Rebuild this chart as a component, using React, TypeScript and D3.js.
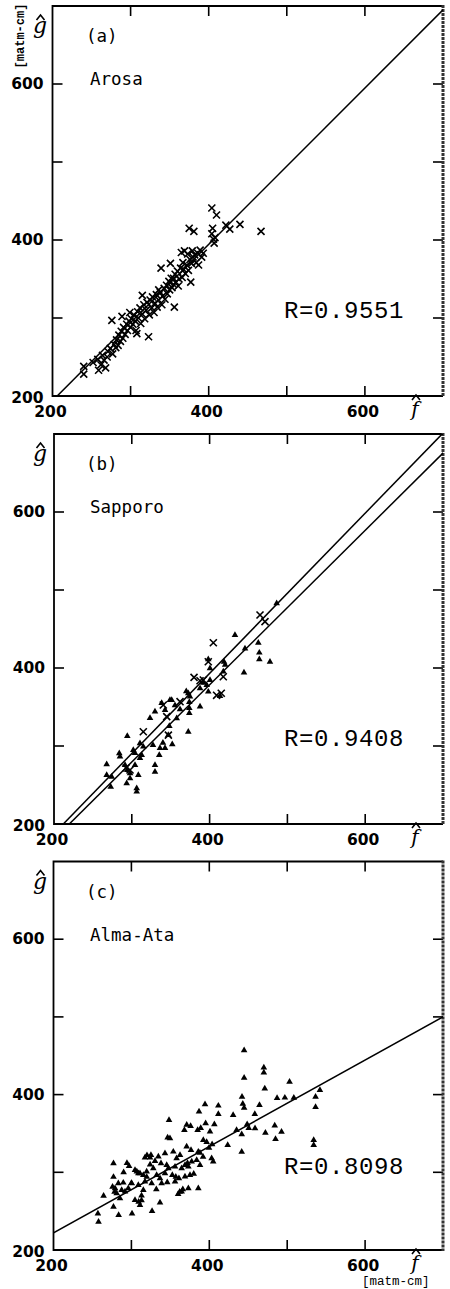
import React from "react";
import * as d3 from "d3";

// Axis ticks (both axes share the same range, in matm-cm)
const TICKS = [300, 400, 500, 600];
const TICK_LABELS = [200, 400, 600];
const DOMAIN: [number, number] = [200, 700];

// (a) Arosa — crosses, [f, g]
const AROSA_CROSSES: [number, number][] = [
  [240, 238], [240, 228], [252, 243], [258, 247], [259, 233], [262, 240], [264, 252], [268, 236],
  [266, 246], [270, 250], [271, 257], [274, 261], [276, 297], [277, 254], [279, 266], [281, 262],
  [282, 272], [284, 265], [285, 278], [287, 270], [288, 283], [289, 302], [290, 274], [291, 288],
  [293, 279], [295, 292], [296, 284], [298, 296], [299, 307], [300, 288], [301, 299], [303, 292],
  [304, 304], [306, 296], [307, 284], [308, 280], [309, 308], [310, 300], [312, 313], [313, 293],
  [315, 305], [315, 329], [317, 317], [318, 299], [320, 310], [321, 320], [323, 276], [324, 304],
  [325, 323], [327, 313], [328, 327], [330, 307], [331, 319], [333, 330], [334, 314], [336, 336],
  [336, 323], [338, 333], [339, 364], [340, 317], [341, 328], [343, 338], [344, 324], [346, 342],
  [347, 331], [349, 347], [350, 336], [351, 370], [352, 351], [353, 339], [355, 351], [355, 343],
  [356, 314], [357, 356], [358, 346], [360, 360], [361, 341], [362, 350], [364, 364], [365, 384],
  [366, 352], [367, 371], [368, 362], [369, 386], [370, 357], [372, 368], [373, 382], [374, 361],
  [376, 375], [377, 346], [378, 370], [379, 386], [380, 378], [382, 381], [384, 371], [386, 383],
  [387, 368], [389, 387], [391, 378], [393, 383], [375, 415], [381, 411], [404, 441], [410, 432],
  [405, 415], [404, 408], [406, 401], [407, 396], [408, 403], [422, 419], [427, 414], [440, 420],
  [467, 411],
];

// (b) Sapporo — triangles and crosses, [f, g]
const SAPPORO_TRIANGLES: [number, number][] = [
  [432.6, 442.3], [462.6, 432.4], [463.9, 419.6], [463.9, 411.2], [477.6, 408], [444.2, 394],
  [486.2, 483], [445.5, 425], [418.5, 408], [398.3, 411.2], [400.5, 399.6], [417.6, 395.3],
  [398.3, 369.6], [413.4, 364], [387.7, 350.4], [373.9, 356.4], [373.9, 348.7], [373.9, 342.3],
  [372.6, 367.6], [349, 359], [338.4, 355.1], [342.7, 346.2], [357.7, 335.5], [323.4, 335.9],
  [329.8, 344], [346.9, 314.1], [372.6, 318.3], [294.2, 312.8], [310.5, 303.5], [314.8, 299.1],
  [327.2, 301.3], [336.2, 297.4], [342.7, 297.4], [335.3, 288.5], [312.7, 288.5], [310.5, 284.6],
  [329.8, 275.6], [329.8, 267], [283.9, 290.6], [284.8, 286.3], [267.7, 276.5], [267.7, 262.8],
  [274.2, 260.6], [272.9, 247.8], [291.3, 275.6], [294.2, 269.2], [297.7, 265], [297.7, 258.6],
  [293.4, 252.2], [306.3, 245.8], [306.3, 241.4], [308.4, 262.8], [304.1, 275.6], [301.9, 294.9],
  [304.1, 291], [351.3, 359], [374.8, 363.2], [387.7, 374], [396.3, 378.2], [400.5, 384.6],
  [348.2, 325.6], [355.5, 352], [362, 347], [340, 304], [352, 302], [370, 370], [392, 381],
  [420, 404],
];

const SAPPORO_CROSSES: [number, number][] = [
  [464.8, 468], [471.2, 459.4], [404.8, 432.4], [398.3, 408], [380, 388], [387.7, 383.7],
  [417.6, 388.8], [415, 367.6], [409, 365], [340.5, 352.6], [362, 356.8], [344.9, 337.6],
  [314.8, 318.3], [347, 314], [292.6, 271.8], [297.7, 269.2], [391.9, 384.6],
];

// (c) Alma-Ata — triangles, [f, g]
const ALMA_ATA_TRIANGLES: [number, number][] = [
  [257, 247], [257.8, 236.4], [264.3, 269.8], [275.8, 281.4], [278.4, 275], [277, 311.4],
  [277, 294], [279, 279.4], [277, 255.7], [283.6, 245], [283.2, 285.8], [281.1, 272.9],
  [285.3, 266.5], [287.5, 277.2], [289.6, 286.6], [291.8, 275.1], [294.3, 311.8], [297, 308],
  [296, 279.4], [300.3, 285.8], [300.8, 247], [304.6, 303], [304.6, 264.3], [307, 300.8],
  [308.9, 298.7], [308.9, 283.7], [309.3, 262], [311, 257.9], [311, 298.7], [313, 270],
  [315.3, 296.5], [315.3, 277], [317.4, 288], [317.4, 318.8], [319.6, 300.8], [319.7, 294],
  [320, 322], [323.9, 318.8], [325.1, 322.3], [326, 285.8], [326.5, 250], [328.1, 305.1],
  [330.3, 314.5], [332.4, 296.5], [334.6, 320.1], [336.7, 292.2], [336.7, 260.9], [338, 311.5],
  [338.8, 285.8], [343.1, 298.7], [343.1, 324.4], [345.3, 309.4], [346.5, 344.6], [347.4, 305.1],
  [348.3, 367.3], [349.5, 343.7], [352.5, 296.5], [353.8, 326.5], [356, 288], [356, 307.2],
  [357, 294.3], [360, 272], [361, 292.2], [362, 275], [362.4, 322.3], [364.5, 305.1],
  [364.5, 275.1], [366, 278], [368, 354.4], [368.8, 294.4], [368.8, 309.4], [370.9, 333],
  [371, 361], [372, 312], [373.1, 307.2], [373.1, 279.4], [375.2, 296.5], [376, 359.6],
  [376.5, 328.7], [377.4, 313.7], [383.8, 315.8], [385, 354.4], [385.9, 326.5], [385.9, 279.4],
  [386.8, 378], [388, 325], [388.1, 309.4], [389, 357], [392.3, 341.6], [394.5, 387.5],
  [395.3, 363], [396.6, 338.8], [399.6, 331.5], [400.9, 352.3], [403, 318], [405, 313.7],
  [403.6, 336], [406.5, 361.7], [411.6, 385.7], [411.6, 375], [423.6, 335.1], [430.6, 373.5],
  [435, 354.4], [441.6, 349], [441.6, 326.4], [442, 397], [443, 388], [444.7, 383],
  [444.7, 457], [444.7, 421.5], [448.6, 361.6], [450.6, 357], [458.4, 374.8], [458.7, 356.6],
  [464.4, 386.4], [470, 434.8], [470, 428.4], [471.2, 407.8], [472, 350.8], [484, 360],
  [485, 342.7], [487, 395.4], [492.7, 352], [497, 396], [503, 416.3], [508.5, 395.8],
  [536.4, 397], [536.4, 384], [542, 405.7], [534, 341.4], [534, 335], [300, 286], [313, 264],
  [290, 300], [332, 278], [346, 287], [358, 318], [380, 298], [392, 320], [324, 310],
];

// Least-squares lines, g = slope * f + intercept
const AROSA_FITS = [{ slope: 1.002, intercept: -6.4 }];
const SAPPORO_FITS = [
  { slope: 1.027, intercept: -17.7 },
  { slope: 0.99, intercept: -17.5 },
];
const ALMA_ATA_FITS = [{ slope: 0.556, intercept: 110.8 }];

const PANEL_TAGS = ["(a)", "(b)", "(c)"];
const STATIONS = ["Arosa", "Sapporo", "Alma-Ata"];
const R_VALUES = ["0.9551", "0.9408", "0.8098"];

type Fit = { slope: number; intercept: number };
type PanelSpec = {
  frame: { left: number; right: number; top: number; bottom: number };
  crosses: [number, number][];
  triangles: [number, number][];
  fits: Fit[];
};

const PANELS: PanelSpec[] = [
  { frame: { left: 52.5, right: 443, top: 6, bottom: 396 }, crosses: AROSA_CROSSES, triangles: [], fits: AROSA_FITS },
  { frame: { left: 54, right: 443, top: 434, bottom: 824 }, crosses: SAPPORO_CROSSES, triangles: SAPPORO_TRIANGLES, fits: SAPPORO_FITS },
  { frame: { left: 53.5, right: 443, top: 861.5, bottom: 1250 }, crosses: [], triangles: ALMA_ATA_TRIANGLES, fits: ALMA_ATA_FITS },
];

const PLOT_FONT = "'Liberation Mono', 'DejaVu Sans Mono', monospace";
const NAME_FONT = "'DejaVu Sans Mono', monospace";
const TICK_FONT = "'DejaVu Sans', sans-serif";
const SYMBOL_FONT = "'DejaVu Serif', serif";

const crossPath = d3.symbol(d3.symbolX, 34)() as string;
const trianglePath = d3.symbol(d3.symbolTriangle, 19)() as string;

function Hat({ cx, cy }: { cx: number; cy: number }) {
  return (
    <path
      d={`M${cx - 4},${cy + 3} L${cx},${cy - 2} L${cx + 4},${cy + 3}`}
      fill="none"
      stroke="#000"
      strokeWidth={1.6}
    />
  );
}

function Panel({ spec, index }: { spec: PanelSpec; index: number }) {
  const { left, right, top, bottom } = spec.frame;
  const x = d3.scaleLinear().domain(DOMAIN).range([left, right]);
  const y = d3.scaleLinear().domain(DOMAIN).range([bottom, top]);
  const clipId = `clip-${index}`;
  const tickLen = 10;

  return (
    <g>
      <defs>
        <clipPath id={clipId}>
          <rect x={left} y={top} width={right - left} height={bottom - top} />
        </clipPath>
      </defs>

      {/* ticks on all four sides, pointing inward */}
      {TICKS.map((t) => (
        <g key={`t${t}`} stroke="#000" strokeWidth={1.6}>
          <line x1={x(t)} x2={x(t)} y1={bottom} y2={bottom - tickLen} />
          <line x1={x(t)} x2={x(t)} y1={top} y2={top + tickLen} />
          <line x1={left} x2={left + tickLen} y1={y(t)} y2={y(t)} />
          <line x1={right} x2={right - tickLen} y1={y(t)} y2={y(t)} />
        </g>
      ))}

      {/* frame */}
      <path
        d={`M${right},${top} L${left},${top} L${left},${bottom} L${right},${bottom}`}
        fill="none"
        stroke="#000"
        strokeWidth={1.8}
      />
      <line x1={right} x2={right} y1={top - 1} y2={bottom + 1} stroke="#333" strokeWidth={3} strokeDasharray="3 1" />

      {/* regression lines */}
      <g clipPath={`url(#${clipId})`}>
        {spec.fits.map((fit, i) => {
          const fs = [150, 750];
          const d = d3
            .line<number>()
            .x((f) => x(f))
            .y((f) => y(fit.slope * f + fit.intercept))(fs);
          return <path key={i} d={d || ""} fill="none" stroke="#000" strokeWidth={1.5} />;
        })}
      </g>

      {/* observations */}
      <g clipPath={`url(#${clipId})`}>
        {spec.triangles.map(([f, g], i) => (
          <path key={`tri${i}`} d={trianglePath} transform={`translate(${x(f)},${y(g)})`} fill="#000" />
        ))}
        {spec.crosses.map(([f, g], i) => (
          <path
            key={`x${i}`}
            d={crossPath}
            transform={`translate(${x(f)},${y(g)})`}
            fill="none"
            stroke="#000"
            strokeWidth={1.6}
          />
        ))}
      </g>

      {/* tick labels */}
      {TICK_LABELS.map((t) => (
        <text
          key={`yl${t}`}
          x={left - 9}
          y={t === 200 ? y(t) + 2 : y(t)}
          textAnchor="end"
          dominantBaseline="central"
          fontFamily={TICK_FONT}
          fontWeight="bold"
          fontSize={15.5}
        >
          {t}
        </text>
      ))}
      {TICK_LABELS.map((t) => (
        <text
          key={`xl${t}`}
          x={x(t) - 2}
          y={bottom + 16}
          textAnchor="middle"
          dominantBaseline="central"
          fontFamily={TICK_FONT}
          fontWeight="bold"
          fontSize={15.5}
        >
          {t}
        </text>
      ))}

      {/* axis symbols ĝ and f̂ */}
      <text x={40} y={top + 27} textAnchor="middle" fontFamily={SYMBOL_FONT} fontStyle="italic" fontSize={22}>
        g
      </text>
      <Hat cx={40.5} cy={top + 11} />
      <text x={415} y={bottom + 20} textAnchor="middle" fontFamily={SYMBOL_FONT} fontStyle="italic" fontSize={20}>
        f
      </text>
      <Hat cx={416} cy={bottom + 1} />

      {/* panel annotations */}
      <text x={86} y={top + 36} fontFamily={NAME_FONT} fontSize={17.5}>
        {PANEL_TAGS[index]}
      </text>
      <text x={90} y={top + 79} fontFamily={NAME_FONT} fontSize={17.5}>
        {STATIONS[index]}
      </text>
      <text x={284} y={top + 312} fontFamily={PLOT_FONT} fontSize={24} letterSpacing={0.6}>
        {`R=${R_VALUES[index]}`}
      </text>
    </g>
  );
}

export default function App() {
  return (
    <div style={{ position: "absolute", left: 0, top: 0, width: 450, height: 1289, background: "#fff" }}>
      <svg width={450} height={1289} viewBox="0 0 450 1289" style={{ display: "block" }}>
        <rect x={0} y={0} width={450} height={1289} fill="#fff" />
        {PANELS.map((p, i) => (
          <Panel key={i} spec={p} index={i} />
        ))}
        {/* units */}
        <text
          transform="translate(24,36) rotate(-90)"
          textAnchor="middle"
          fontFamily={PLOT_FONT}
          fontSize={12}
          fontWeight="bold"
        >
          [matm-cm]
        </text>
        <text x={362} y={1285} fontFamily={PLOT_FONT} fontSize={12.5}>
          [matm-cm]
        </text>
      </svg>
    </div>
  );
}
